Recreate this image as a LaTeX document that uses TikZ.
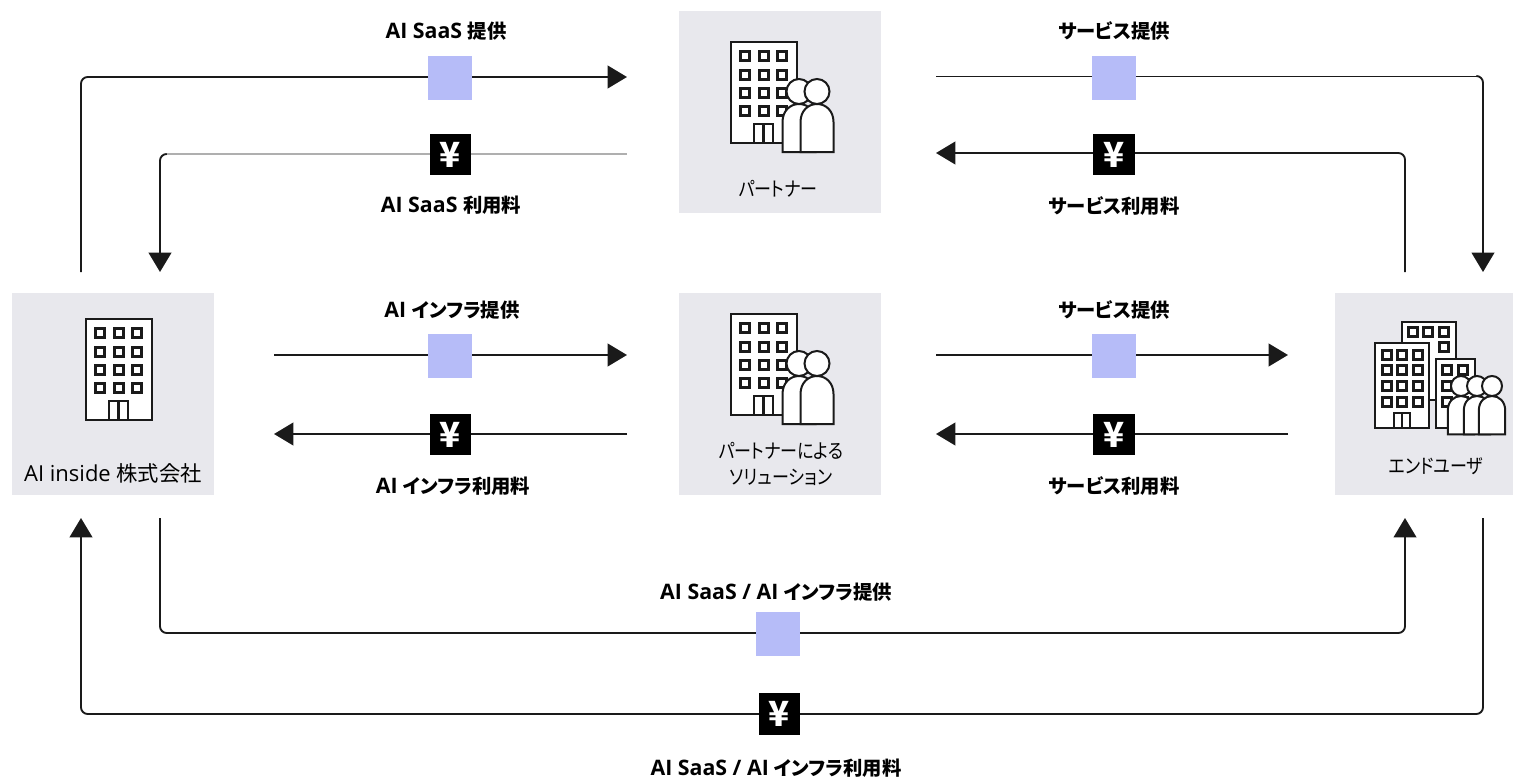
\documentclass[tikz,border=0pt]{standalone}
\usepackage{fontspec}
\setmainfont{Open Sans}
\newfontfamily\jp[RawFeature=+palt]{Noto Sans CJK JP}
\newfontfamily\jc[RawFeature=+palt,FakeStretch=0.85]{Noto Sans CJK JP}
\usetikzlibrary{arrows.meta}
\definecolor{panel}{HTML}{E8E8ED}
\definecolor{token}{HTML}{B6BCF8}
\definecolor{ink}{HTML}{1A1A1A}
\newcommand{\jt}[1]{{\jp\fontsize{14.5pt}{16pt}\selectfont #1}}
\newcommand{\ka}[1]{{\jc\fontsize{15pt}{18pt}\selectfont #1}}
\newcommand{\kj}[1]{{\jp\fontsize{16pt}{18pt}\selectfont #1}}
\tikzset{
  panelbox/.style={fill=panel,draw=none,minimum width=151.5pt,minimum height=151.5pt,inner sep=0pt,anchor=north west},
  tokenbox/.style={fill=token,draw=none,minimum width=33pt,minimum height=33pt,inner sep=0pt},
  yenbox/.style={fill=black,text=white,draw=none,minimum width=31pt,minimum height=31pt,inner sep=0pt,text height=19pt,text depth=0pt,font=\jp\fontsize{26pt}{26pt}\selectfont\bfseries},
  flow/.style={draw=ink,line width=1.4pt,rounded corners=5pt},
  flowarrow/.style={flow,-{Triangle[length=14.5pt,width=17pt]}},
  thinflow/.style={draw=ink!35,line width=.8pt},
  thinblack/.style={draw=ink,line width=.7pt},
  tag/.style={font=\fontsize{16pt}{18pt}\selectfont\bfseries,text=black,inner sep=0pt},
  capt/.style={font=\fontsize{16.5pt}{18pt}\selectfont,text=black,inner sep=0pt,align=center},
  icon/.style={draw=ink,line width=1.5pt,fill=white},
  win/.style={draw=ink,line width=1.8pt,fill=none}
}
\newcommand{\winat}[3]{\draw[win] (#1-4.5,#2-4.5) rectangle (#1+4.5,#2+4.5);}
\newcommand{\tower}[2]{%
 \begin{scope}[shift={(#1,#2)}]
  \draw[icon] (0,0) rectangle (66,101);
  \foreach \wx in {14,33,51}\foreach \wy in {14,33,51,69}{\winat{\wx}{\wy}{}}
  \draw[icon] (23,82) rectangle (42,101);
  \draw[win] (32.5,82) -- (32.5,101);
 \end{scope}}
\newcommand{\person}[3]{% centre x, top of head y, scale
 \begin{scope}[shift={(#1,#2)},scale=#3]
  \draw[icon] (-16.5,73) -- (-16.5,43) .. controls (-16.5,32) and (-9,25) .. (0,25) .. controls (9,25) and (16.5,32) .. (16.5,43) -- (16.5,73) -- cycle;
  \draw[icon] (0,12.5) circle (12.5);
 \end{scope}}
\begin{document}
\begin{tikzpicture}[x=.75pt,y=-.75pt]
\useasboundingbox (0,0) rectangle (1513,778);
% panels
\node[panelbox] (partner) at (679,11) {};
\node[panelbox] (aiinside) at (12,293) {};
\node[panelbox] (solution) at (679,293) {};
\node[panelbox,minimum width=133.5pt] (enduser) at (1335,293) {};
% free ends
\coordinate (a1) at (81,272); \coordinate (a2) at (627,77);
\coordinate (b1) at (627,154); \coordinate (b2) at (160,272);
\coordinate (c1) at (936,76); \coordinate (c2) at (1483,272);
\coordinate (d1) at (1405,272); \coordinate (d2) at (936,153);
\coordinate (e1) at (274,355); \coordinate (e2) at (627,355);
\coordinate (f1) at (627,434); \coordinate (f2) at (274,434);
\coordinate (g1) at (936,355); \coordinate (g2) at (1288,355);
\coordinate (h1) at (1288,434); \coordinate (h2) at (936,434);
\coordinate (i1) at (160,518); \coordinate (i2) at (1405,518);
\coordinate (j1) at (1483,518); \coordinate (j2) at (81,518);
% connectors
\draw[flowarrow] (a1) |- (a2);
\draw[thinflow] (b1) -- (166,154);
\draw[flowarrow] (166,154) -| (b2);
\draw[thinblack] (c1) -- (1477,76);
\draw[flowarrow] (1477,76) -| (c2);
\draw[flowarrow] (d1) |- (d2);
\draw[flowarrow] (e1) -- (e2);
\draw[flowarrow] (f1) -- (f2);
\draw[flowarrow] (g1) -- (g2);
\draw[flowarrow] (h1) -- (h2);
\draw[flowarrow] (i1) |- (776,633) -| (i2);
\draw[flowarrow] (j1) |- (776,714) -| (j2);
% tokens
\node[tokenbox] (t1) at (450,78) {};
\node[tokenbox] (t2) at (1114,78) {};
\node[tokenbox] (t3) at (450,356) {};
\node[tokenbox] (t4) at (1114,356) {};
\node[tokenbox] (t5) at (778,634) {};
\node[yenbox] (y1) at (450.5,154.5) {¥};
\node[yenbox] (y2) at (1114,154.5) {¥};
\node[yenbox] (y3) at (450.5,434.5) {¥};
\node[yenbox] (y4) at (1114,434.5) {¥};
\node[yenbox] (y5) at (779.5,714) {¥};
% labels
\node[tag] (l1) at (446,31) {AI SaaS \jt{提供}};
\node[tag] (l2) at (451,205) {AI SaaS \jt{利用料}};
\node[tag] (l3) at (1114,31) {\jt{サービス提供}};
\node[tag] (l4) at (1114,206) {\jt{サービス利用料}};
\node[tag] (l5) at (452,310) {AI \jt{インフラ提供}};
\node[tag] (l6) at (453,486) {AI \jt{インフラ利用料}};
\node[tag] (l7) at (1114,310) {\jt{サービス提供}};
\node[tag] (l8) at (1114,486) {\jt{サービス利用料}};
\node[tag] (l9) at (776,592) {AI SaaS / AI \jt{インフラ提供}};
\node[tag] (l10) at (776,768) {AI SaaS / AI \jt{インフラ利用料}};
% captions
\node[capt] (n1) at (778,189) {\ka{パートナー}};
\node[capt] (n2) at (113,473) {AI inside \kj{株式会社}};
\node[capt] (n3) at (781,464) {\ka{パートナーによる}\\[1pt]\ka{ソリューション}};
\node[capt] (n4) at (1436,466) {\ka{エンドユーザ}};
% icons
\tower{731}{42}
\person{799}{79}{1}
\person{817}{79}{1}
\tower{86}{319}
\tower{731}{314}
\person{799}{351}{1}
\person{817}{351}{1}
% end user icon
\draw[icon] (1402,322) rectangle (1456,400);
\foreach \wx in {1413,1428,1444}{\winat{\wx}{332}{}}
\winat{1444}{347}{}
\draw[icon] (1436,359) rectangle (1475,428);
\foreach \wx in {1447,1463}\foreach \wy in {370,386,402}{\winat{\wx}{\wy}{}}
\draw[icon] (1375,343) rectangle (1429,428);
\foreach \wx in {1387,1402,1418}\foreach \wy in {355,370,386,402}{\winat{\wx}{\wy}{}}
\draw[icon] (1394,413) rectangle (1410,428);
\draw[win] (1402,413) -- (1402,428);
\person{1461}{376}{.8}
\person{1477}{376}{.8}
\person{1492}{376}{.8}
\end{tikzpicture}
\end{document}
